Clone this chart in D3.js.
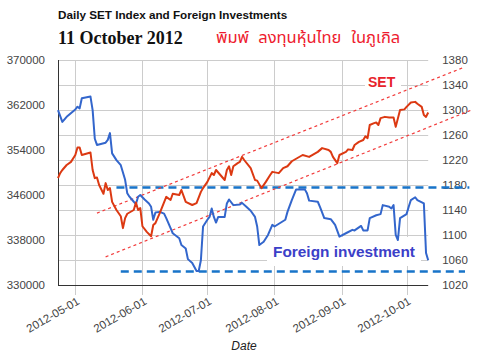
<!DOCTYPE html>
<html><head><meta charset="utf-8">
<script src="https://cdn.jsdelivr.net/npm/d3@7/dist/d3.min.js"></script>
<style>
body{margin:0;background:#fff;}
svg{display:block;}
</style></head>
<body><svg id="c" width="478" height="361"></svg>
<script>
// ---- data ----
const foreignDates = ["2012-04-23","2012-04-25","2012-04-27","2012-05-01","2012-05-02","2012-05-03","2012-05-04","2012-05-08","2012-05-09","2012-05-10","2012-05-11","2012-05-15","2012-05-16","2012-05-17","2012-05-18","2012-05-20","2012-05-22","2012-05-24","2012-05-25","2012-05-26","2012-05-28","2012-05-29","2012-05-30","2012-05-31","2012-06-02","2012-06-04","2012-06-05","2012-06-06","2012-06-07","2012-06-09","2012-06-11","2012-06-12","2012-06-13","2012-06-14","2012-06-15","2012-06-18","2012-06-19","2012-06-21","2012-06-22","2012-06-24","2012-06-26","2012-06-27","2012-06-28","2012-06-29","2012-07-01","2012-07-02","2012-07-03","2012-07-04","2012-07-05","2012-07-06","2012-07-09","2012-07-10","2012-07-11","2012-07-13","2012-07-16","2012-07-17","2012-07-19","2012-07-21","2012-07-23","2012-07-24","2012-07-25","2012-07-27","2012-07-29","2012-07-31","2012-08-01","2012-08-06","2012-08-07","2012-08-09","2012-08-11","2012-08-15","2012-08-16","2012-08-17","2012-08-21","2012-08-22","2012-08-24","2012-08-27","2012-08-29","2012-08-31","2012-09-03","2012-09-06","2012-09-07","2012-09-10","2012-09-11","2012-09-13","2012-09-14","2012-09-17","2012-09-19","2012-09-20","2012-09-23","2012-09-24","2012-09-25","2012-09-26","2012-09-27","2012-09-28","2012-10-01","2012-10-02","2012-10-03","2012-10-05","2012-10-06","2012-10-09","2012-10-10","2012-10-11"];
const foreignValues = [361100,359000,359900,361200,361700,361400,363200,363500,361100,356000,354900,355300,355800,357000,353400,352200,351300,348700,346300,345700,344800,344400,345700,346000,345200,344500,343900,341600,342900,343000,342700,341900,341000,340100,339200,338300,337100,336500,334600,333900,332500,332500,334400,340400,341600,342100,343600,342100,341100,342100,342100,344500,345200,344200,344300,344600,343900,343200,342100,340400,337100,337700,338900,340700,340400,341600,343000,345100,347000,347000,346300,345000,344800,343900,341900,341700,340700,338600,339200,339800,339700,340500,339700,339700,341900,342400,342600,344200,343900,343600,344200,338900,338000,341900,342600,343900,345100,345600,345100,344500,335700,334400];

const setDates = ["2012-04-23","2012-04-24","2012-04-25","2012-04-27","2012-04-29","2012-05-01","2012-05-02","2012-05-03","2012-05-04","2012-05-06","2012-05-08","2012-05-09","2012-05-10","2012-05-11","2012-05-12","2012-05-14","2012-05-15","2012-05-16","2012-05-17","2012-05-18","2012-05-20","2012-05-22","2012-05-23","2012-05-24","2012-05-25","2012-05-28","2012-05-29","2012-05-30","2012-05-31","2012-06-01","2012-06-03","2012-06-05","2012-06-06","2012-06-07","2012-06-09","2012-06-12","2012-06-14","2012-06-15","2012-06-18","2012-06-19","2012-06-21","2012-06-24","2012-06-26","2012-06-28","2012-06-29","2012-07-01","2012-07-03","2012-07-04","2012-07-05","2012-07-07","2012-07-09","2012-07-10","2012-07-11","2012-07-12","2012-07-13","2012-07-15","2012-07-16","2012-07-17","2012-07-18","2012-07-21","2012-07-23","2012-07-24","2012-07-26","2012-07-28","2012-07-30","2012-07-31","2012-08-03","2012-08-05","2012-08-07","2012-08-09","2012-08-12","2012-08-14","2012-08-17","2012-08-19","2012-08-21","2012-08-23","2012-08-26","2012-08-27","2012-08-28","2012-08-30","2012-08-31","2012-09-03","2012-09-04","2012-09-06","2012-09-07","2012-09-09","2012-09-11","2012-09-12","2012-09-13","2012-09-14","2012-09-16","2012-09-17","2012-09-18","2012-09-19","2012-09-21","2012-09-23","2012-09-25","2012-09-26","2012-09-28","2012-09-30","2012-10-01","2012-10-03","2012-10-05","2012-10-06","2012-10-08","2012-10-09","2012-10-10","2012-10-11"];
const setValues = [1191,1199,1204,1212,1217,1228,1240,1240,1228,1230,1232,1204,1191,1192,1180,1166,1183,1172,1175,1153,1140,1130,1111,1127,1134,1140,1152,1140,1143,1114,1105,1098,1116,1119,1135,1161,1156,1166,1164,1172,1153,1148,1151,1169,1175,1185,1199,1196,1204,1196,1188,1204,1210,1196,1210,1215,1217,1225,1220,1207,1188,1187,1175,1185,1196,1201,1199,1207,1210,1218,1224,1228,1225,1229,1233,1239,1236,1233,1225,1215,1228,1233,1237,1236,1244,1249,1252,1258,1255,1276,1279,1280,1276,1287,1289,1288,1288,1273,1300,1301,1305,1312,1313,1310,1305,1292,1289,1296];

// annotation lines
const setChannelUpper = [["2012-05-11",1135],["2012-10-28",1369]];
const setChannelLower = [["2012-05-15",1065],["2012-10-31",1300]];
const foreignLevelUpper = [["2012-05-20",347330],["2012-10-30",347330]];
const foreignLevelLower = [["2012-05-22",332400],["2012-10-28",332400]];

const leftTicks = [330000,338000,346000,354000,362000,370000];
const rightTicks = [1020,1060,1100,1140,1180,1220,1260,1300,1340,1380];
const monthTicks = ["2012-05-01","2012-06-01","2012-07-01","2012-08-01","2012-09-01","2012-10-01"];
const xDomain = ["2012-04-23","2012-10-11"];

const titleText = "Daily SET Index and Foreign Investments";
const dateText = "11 October 2012";
const thaiWords = ["พิมพ์", "ลงทุนหุ้นไทย", "ในภูเกิล"];
const setLabel = "SET";
const foreignLabel = "Foreign investment";
const xAxisTitle = "Date";

// ---- chart ----
const parse = d3.timeParse("%Y-%m-%d");
const svg = d3.select("#c");
const L = 58, R = 428.2, T = 60, B = 285;

const x = d3.scaleTime().domain(xDomain.map(parse)).range([L, R]);
const yL = d3.scaleLinear().domain([330000, 370000]).range([B, T]);
const yR = d3.scaleLinear().domain([1020, 1380]).range([B, T]);

const FONT = "Arial, 'Liberation Sans', sans-serif";

// gridlines
const grid = svg.append("g");
grid.selectAll("line.h").data(rightTicks.slice(1)).enter().append("line")
  .attr("x1", L).attr("x2", R).attr("y1", d => Math.round(yR(d)) + 0.5).attr("y2", d => Math.round(yR(d)) + 0.5)
  .attr("stroke", "#cccccc").attr("stroke-width", 1);
grid.selectAll("line.v").data(monthTicks).enter().append("line")
  .attr("x1", d => Math.round(x(parse(d))) + 0.5).attr("x2", d => Math.round(x(parse(d))) + 0.5)
  .attr("y1", T).attr("y2", B + 10)
  .attr("stroke", "#cccccc").attr("stroke-width", 1);

// label backgrounds
svg.append("rect").attr("x", 267).attr("y", 237).attr("width", 154).attr("height", 29).attr("fill", "#fff");
svg.append("rect").attr("x", 365).attr("y", 74).attr("width", 36).attr("height", 17).attr("fill", "#fff");

// axes lines
svg.append("line").attr("x1", L + 0.5).attr("x2", L + 0.5).attr("y1", T).attr("y2", B + 0.5).attr("stroke", "#333").attr("stroke-width", 1);
svg.append("line").attr("x1", L).attr("x2", R).attr("y1", B + 0.5).attr("y2", B + 0.5).attr("stroke", "#333").attr("stroke-width", 1);

// left axis labels
const ax = d3.axisLeft(yL).tickValues(leftTicks).tickSize(0).tickPadding(13).tickFormat(d3.format("d"));
const gL = svg.append("g").attr("transform", `translate(${L},0)`).call(ax);
gL.select(".domain").remove();
gL.selectAll("text").attr("font-family", FONT).attr("font-size", 11.5).attr("fill", "#444");

const axR = d3.axisRight(yR).tickValues(rightTicks).tickSize(0).tickPadding(14).tickFormat(d3.format("d"));
const gR = svg.append("g").attr("transform", `translate(${R},0)`).call(axR);
gR.select(".domain").remove();
gR.selectAll("text").attr("font-family", FONT).attr("font-size", 11.5).attr("fill", "#444");

const axB = d3.axisBottom(x).tickValues(monthTicks.map(parse)).tickSize(0).tickFormat(d3.timeFormat("%Y-%m-%d"));
const gB = svg.append("g").attr("transform", `translate(0,${B})`).call(axB);
gB.select(".domain").remove();
gB.selectAll("text")
  .attr("font-family", FONT).attr("font-size", 11.5).attr("fill", "#444")
  .attr("text-anchor", "end").attr("dy", 0)
  .attr("transform", "translate(3,16) rotate(-30)");

// annotation lines
const lineL = d3.line().x(d => x(parse(d[0]))).y(d => yL(d[1]));
const lineR = d3.line().x(d => x(parse(d[0]))).y(d => yR(d[1]));
[foreignLevelUpper, foreignLevelLower].forEach(dat => {
  svg.append("path").attr("d", lineL(dat)).attr("fill", "none")
    .attr("stroke", "#1874c9").attr("stroke-width", 2.6).attr("stroke-dasharray", "8,5");
});
[setChannelUpper, setChannelLower].forEach(dat => {
  svg.append("path").attr("d", lineR(dat)).attr("fill", "none")
    .attr("stroke", "#f23b3b").attr("stroke-width", 1.2).attr("stroke-dasharray", "3,3");
});

// series
const fData = foreignDates.map((d, i) => [d, foreignValues[i]]);
const sData = setDates.map((d, i) => [d, setValues[i]]);
svg.append("path").attr("d", lineL(fData)).attr("fill", "none")
  .attr("stroke", "#3366cc").attr("stroke-width", 2).attr("stroke-linejoin", "round");
svg.append("path").attr("d", lineR(sData)).attr("fill", "none")
  .attr("stroke", "#dc3912").attr("stroke-width", 2).attr("stroke-linejoin", "round");

// texts
svg.append("text").attr("x", 58).attr("y", 18.5).text(titleText)
  .attr("font-family", FONT).attr("font-weight", "bold").attr("font-size", 11.7).attr("fill", "#111");
svg.append("text").attr("x", 58).attr("y", 44).text(dateText)
  .attr("font-family", "'Liberation Serif', 'Times New Roman', serif").attr("font-weight", "bold").attr("font-size", 18).attr("fill", "#111");
const thai = svg.append("text").attr("y", 43)
  .attr("font-family", "'Noto Sans Thai', Tahoma, 'Noto Sans', sans-serif").attr("font-size", 16.5).attr("fill", "#ee1b2e");
const thaiX = [216, 254, 347];
thaiWords.forEach((w, i) => thai.append("tspan").attr("x", thaiX[i]).text((i ? " " : "") + w));
svg.append("text").attr("x", 368).attr("y", 87).text(setLabel)
  .attr("font-family", FONT).attr("font-weight", "bold").attr("font-size", 14).attr("fill", "#e8232b");
svg.append("text").attr("x", 273).attr("y", 257).text(foreignLabel)
  .attr("font-family", FONT).attr("font-weight", "bold").attr("font-size", 15.4).attr("fill", "#3b40c8");
svg.append("text").attr("x", 244).attr("y", 350).attr("text-anchor", "middle").text(xAxisTitle)
  .attr("font-family", FONT).attr("font-style", "italic").attr("font-size", 12).attr("fill", "#222");
</script>
</body></html>
